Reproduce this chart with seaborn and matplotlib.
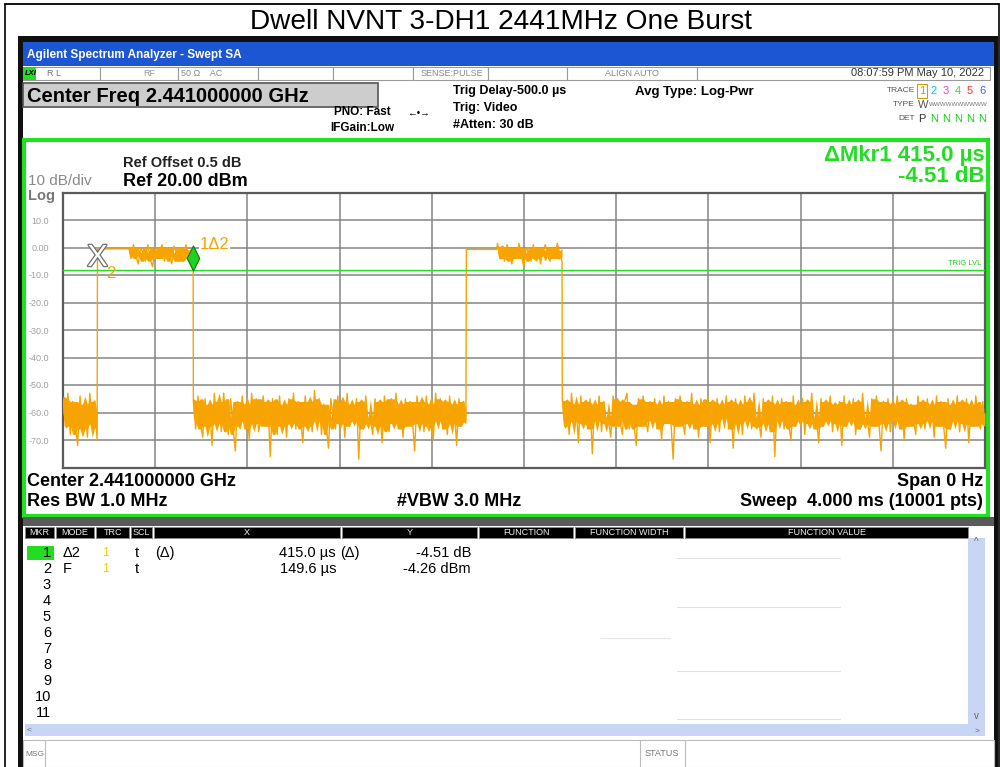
import numpy as np
import pandas as pd
import matplotlib
matplotlib.use('Agg')
import matplotlib.pyplot as plt
import matplotlib.patches as mpatches
import matplotlib.patheffects as pe
from matplotlib.path import Path
import seaborn as sns

sns.set_theme(style='white')
plt.rcParams['font.family'] = ['Liberation Sans', 'DejaVu Sans']

# ---- trace (time in us, level in dBm) ----
noise_start = [-55, -65, -53, -68, -56, -63, -72, -54, -66, -57, -69, -53, -64, -56, -70]
burst1_flat = [-0.5, -0.5]
burst1 = [0, -4, 1, -3, -6, 0, -2, -5, 1, -4, -7, 0, -4, -1,
          1, -5, 0, -3, -6, 0.5, -2, -5, 0, -5, 1, -4, -1, -4]
noise_mid = [
    -56, -66, -54, -63, -69, -55, -65, -57, -72, -53, -64, -56, -67, -53, -62, -68, -55, -65, -74, -56,
    -63, -54, -66, -57, -70, -53, -64, -55, -67, -62, -54, -65, -56, -76, -55, -63, -68, -54, -65, -57,
    -69, -55, -64, -53, -66, -56, -62, -71, -54, -65, -56, -67, -52, -63, -55, -68, -57, -64, -73, -55,
    -62, -66, -54, -64, -56, -69, -53, -65, -57, -63, -55, -77, -56, -66, -54, -64, -62, -68, -55, -65,
    -56, -71, -54, -63, -67, -55, -64, -53, -66, -57, -69, -55, -65, -56, -62, -74, -54, -64, -56, -67,
    -54, -65, -57, -70, -53, -63, -55, -66, -56, -68, -54, -64, -57, -72, -55, -65, -56, -63]
burst2_flat = [-0.7, -0.7]
burst2 = [1.5, -4, 0, -5, 1, -2, -6, 0, -4, 1.5, -3, -7, 0, -2,
          -5, 1, -4, 0, -6, -1, 1, -3, -5, 0, -4, 1.5, -2, -5]
noise_end = [
    -55, -65, -56, -68, -53, -63, -57, -71, -54, -64, -56, -66, -55, -75, -57, -63, -54, -67, -56, -64,
    -62, -69, -54, -65, -55, -63, -68, -56, -53, -66, -57, -64, -72, -55, -65, -54, -62, -67, -56, -63,
    -55, -66, -57, -70, -54, -64, -56, -63, -77, -55, -65, -54, -62, -68, -56, -64, -53, -66, -57, -69,
    -55, -63, -65, -54, -71, -56, -64, -55, -67, -57, -62, -54, -66, -56, -73, -55, -64, -57, -68, -54,
    -63, -56, -66, -53, -65, -62, -69, -55, -64, -56, -67, -54, -76, -57, -63, -55, -66, -56, -64, -70,
    -54, -65, -57, -63, -55, -68, -56, -64, -53, -66, -62, -71, -55, -65, -56, -63, -54, -67, -57, -64,
    -56, -72, -54, -65, -57, -63, -55, -68, -56, -66, -53, -64, -62, -69, -55, -65, -54, -63, -74, -56,
    -64, -55, -67, -57, -63, -54, -66, -56, -70, -55, -65, -57, -62, -68, -54, -64, -56, -66, -55, -63,
    -57, -69, -54, -65, -56, -64, -73, -55, -66, -57, -63, -54, -67, -56, -64, -55, -71, -57, -65, -54,
    -62, -66, -56, -64]

# time span of each piece of the sweep (us)
spans = [(0, 148), (149.6, 282), (285, 564.6), (565.5, 1748),
         (1750, 1882), (1885, 2165), (2166, 4000)]
pieces = [noise_start, burst1_flat, burst1, noise_mid, burst2_flat, burst2, noise_end]

y_ticks = [20, 10, 0, -10, -20, -30, -40, -50, -60, -70, -80]
y_labels = ['', '10.0', '0.00', '-10.0', '-20.0', '-30.0', '-40.0', '-50.0', '-60.0', '-70.0', '']

trig_level = -8.3
mkr2_t, mkr1_t = 149.6, 564.6
mkr_level = -3.8

table_rows = ['1', '2', '3', '4', '5', '6', '7', '8', '9', '10', '11']
mkr_mode = ['Δ2', 'F']
mkr_x = ['415.0 µs', '149.6 µs']
mkr_y = ['-4.51 dB', '-4.26 dBm']

# ---- build the trace table ----
frames = []
for k, ((t0, t1), vals) in enumerate(zip(spans, pieces)):
    frames.append(pd.DataFrame({'t': np.linspace(t0, t1, len(vals)), 'dBm': vals, 'piece': k}))
trace = pd.concat(frames, ignore_index=True)

fig = plt.figure(figsize=(10, 7.67), dpi=100)
bg = fig.add_axes([0, 0, 1, 1])
bg.set_xlim(0, 1000)
bg.set_ylim(767, 0)
bg.axis('off')


def box(x0, y0, x1, y1, fc='white', ec='none', lw=1.0, z=1):
    bg.add_patch(mpatches.Rectangle((x0, y0), x1 - x0, y1 - y0, fc=fc, ec=ec, lw=lw, zorder=z))


def txt(x, y, s, size=9, color='black', weight='normal', ha='left', **kw):
    kw.setdefault('zorder', 5)
    bg.text(x, y, s, fontsize=size, color=color, fontweight=weight, ha=ha, va='center', **kw)


# outer document frame + title
bg.plot([5, 5], [3.5, 767], color='black', lw=1.2)
bg.plot([5, 998.5], [3.5, 3.5], color='black', lw=1.3)
bg.plot([998.5, 998.5], [3.5, 767], color='black', lw=1.2)
txt(501, 22, 'Dwell NVNT 3-DH1 2441MHz One Burst', size=20.2, ha='center')

# screenshot frame
box(18, 36, 998, 767, fc='#101010', z=1)
box(23, 42, 994, 66, fc='#1d56d3', z=2)
txt(27, 55, 'Agilent Spectrum Analyzer - Swept SA', size=8.5, color='white', weight='bold')
box(23, 66, 994, 767, fc='white', z=2)

# status row
cells = [23, 100, 178, 258, 333, 413, 488, 567, 697, 990]
for a, b in zip(cells[:-1], cells[1:]):
    box(a, 67, b, 80, fc='white', ec='#9a9a9a', lw=0.8, z=3)
box(23, 67, 36, 80, fc='#22dd22', z=4)
txt(24.5, 73.5, 'LXI', size=5.5, weight='bold', style='italic')
txt(47, 73.5, 'R L', size=6.5, color='#777777')
txt(143, 73.5, 'RF', size=6.5, color='#999999')
txt(181, 73.5, '50 Ω    AC', size=6.5, color='#888888')
txt(452, 73.5, 'SENSE:PULSE', size=6.5, color='#888888', ha='center')
txt(632, 73.5, 'ALIGN AUTO', size=6.5, color='#888888', ha='center')
txt(984, 73.5, '08:07:59 PM May 10, 2022', size=8, color='#333333', ha='right')

# top setting area
box(23, 83, 378, 107, fc='#cdcdcd', ec='#555555', lw=1.2, z=3)
txt(27, 96, 'Center Freq 2.441000000 GHz', size=14.5, weight='bold')
txt(362, 112, 'PNO: Fast', size=8.5, weight='bold', ha='center')
txt(362, 128, 'IFGain:Low', size=8.5, weight='bold', ha='center')
txt(418, 112, '←•→', size=7, ha='center')
txt(453, 91, 'Trig Delay-500.0 µs', size=9, weight='bold')
txt(453, 108, 'Trig: Video', size=9, weight='bold')
txt(453, 125, '#Atten: 30 dB', size=9, weight='bold')
txt(635, 92, 'Avg Type: Log-Pwr', size=9.5, weight='bold')
txt(915, 91, 'TRACE', size=6, color='#555555', ha='right')
txt(915, 105, 'TYPE', size=6, color='#555555', ha='right')
txt(915, 119, 'DET', size=6, color='#555555', ha='right')
box(917, 84, 927, 98, fc='white', ec='#c8a000', lw=0.8, z=4)
for i, (d, c) in enumerate(zip('123456', ['#c8a000', '#00c8e8', '#e040e0', '#40d040', '#ff3030', '#4060ff'])):
    txt(922 + 12 * i, 91, d, size=8, color=c, ha='center')
txt(918, 105, 'W', size=8, color='#555555')
txt(929, 105, 'WWWWWWWWWW', size=4.5, color='#777777')
txt(922, 119, 'P', size=8, color='#333333', ha='center')
for i in range(1, 6):
    txt(922 + 12 * i, 119, 'N', size=8, color='#22cc22', ha='center')

# green display panel
box(24, 140, 988, 516, fc='white', ec='#22e022', lw=3, z=3)
txt(123, 163, 'Ref Offset 0.5 dB', size=10.5, weight='bold', color='#222222')
txt(123, 181, 'Ref 20.00 dBm', size=13, weight='bold')
txt(28, 181, '10 dB/div', size=11, color='#8a8a8a')
txt(28, 196, 'Log', size=10.5, color='#777777', weight='bold')
txt(985, 155, 'ΔMkr1 415.0 µs', size=16, weight='bold', color='#22dd22', ha='right')
txt(985, 176, '-4.51 dB', size=16, weight='bold', color='#22dd22', ha='right')
txt(27, 482, 'Center 2.441000000 GHz', size=13, weight='bold')
txt(983, 482, 'Span 0 Hz', size=13, weight='bold', ha='right')
txt(27, 502, 'Res BW 1.0 MHz', size=13, weight='bold')
txt(459, 502, '#VBW 3.0 MHz', size=13, weight='bold', ha='center')
txt(983, 502, 'Sweep  4.000 ms (10001 pts)', size=13, weight='bold', ha='right')

# marker table
box(23, 517, 994, 526, fc='#5a5a5a', z=3)
heads = [(25, 54, 'MKR'), (56, 94, 'MODE'), (96, 129, 'TRC'), (131, 152, 'SCL'),
         (154, 340, 'X'), (342, 477, 'Y'), (479, 573, 'FUNCTION'),
         (575, 683, 'FUNCTION WIDTH'), (685, 968, 'FUNCTION VALUE')]
for a, b, s in heads:
    box(a, 527, b, 538, fc='black', ec='#888888', lw=0.7, z=4)
    txt((a + b) / 2, 532.5, s, size=6.5, color='#f0f0f0', ha='center')
box(27, 546, 54, 560, fc='#22dd22', z=4)
for i, r in enumerate(table_rows):
    txt(51, 553 + 16 * i, r, size=10.5, ha='right')
for i in range(2):
    yy = 553 + 16 * i
    txt(63, yy, mkr_mode[i], size=10.5)
    txt(106, yy, '1', size=9, color='#f0d000', ha='center')
    txt(135, yy, 't', size=10.5)
    txt(336, yy, mkr_x[i], size=10.5, ha='right')
    txt(471, yy, mkr_y[i], size=10.5, ha='right')
txt(155, 553, '(Δ)', size=10.5)
txt(340, 553, '(Δ)', size=10.5)
for yy in [558, 607, 671, 719]:
    bg.plot([677, 840], [yy, yy], color='#e0e0e0', lw=0.8, zorder=4)
bg.plot([600, 670], [638, 638], color='#e6e6e6', lw=0.8, zorder=4)

# scroll bars and message bar
box(25, 724, 968, 736, fc='#c9d5f5', z=4)
box(968, 538, 985, 736, fc='#c9d5f5', z=4)
txt(27, 730, '<', size=6, color='#666666')
txt(976, 542, '^', size=7, color='#666666', ha='center')
txt(976, 716, 'v', size=7, color='#666666', ha='center')
txt(977, 731, '>', size=6, color='#666666', ha='center')
box(23, 740, 994, 767, fc='white', ec='#bbbbbb', lw=0.8, z=4)
bg.plot([45, 45], [740, 767], color='#bbbbbb', lw=0.8, zorder=5)
bg.plot([640, 640], [740, 767], color='#bbbbbb', lw=0.8, zorder=5)
bg.plot([685, 685], [740, 767], color='#bbbbbb', lw=0.8, zorder=5)
txt(25, 754, 'MSG', size=6, color='#777777', zorder=6)
txt(662, 754, 'STATUS', size=6.5, color='#777777', ha='center', zorder=6)

# ---- the trace itself ----
trace_color = '#f7a300'
ax = fig.add_axes([63 / 1000, (767 - 467.5) / 767, 922 / 1000, 275 / 767])
ax.set_facecolor('white')
# dense core of each noisy stretch, the way a 10001-point sweep paints it
for k, part in trace.groupby('piece'):
    if len(part) < 5:
        continue
    roll = part['dBm'].rolling(5, center=True, min_periods=1)
    ax.fill_between(part['t'], roll.quantile(0.25), roll.quantile(0.75),
                    color=trace_color, lw=0, zorder=3)
sns.lineplot(data=trace, x='t', y='dBm', ax=ax, color=trace_color, lw=1.0,
             estimator=None, sort=False, zorder=3)
ax.set_xlim(0, 4000)
ax.set_ylim(-80, 20)
ax.set_xticks(np.linspace(0, 4000, 11))
ax.set_xticklabels([])
ax.set_yticks(y_ticks)
ax.set_yticklabels(y_labels)
ax.set_xlabel('')
ax.set_ylabel('')
ax.tick_params(axis='y', length=0, pad=10, labelsize=6.5, labelcolor='#a0a0a0')
ax.tick_params(axis='x', length=0)
ax.grid(True, color='#858585', lw=1.1)
for sp in ax.spines.values():
    sp.set_color('#5a5a5a')
    sp.set_linewidth(1.6)

ax.axhline(trig_level, color='#22dd22', lw=1.0, zorder=4)
ax.text(3985, trig_level + 2.6, 'TRIG LVL', fontsize=5.5, color='#22cc22', ha='right', va='center')

# markers
ax.text(mkr2_t, mkr_level, 'X', fontsize=22, color='white', ha='center', va='center', zorder=6,
        path_effects=[pe.withStroke(linewidth=1.8, foreground='#707070')])
ax.text(mkr2_t + 38, mkr_level - 5.5, '2', fontsize=12, color=trace_color, ha='left', va='center', zorder=6)
diamond = Path([(0, 1), (0.5, 0), (0, -1), (-0.5, 0), (0, 1)],
               [Path.MOVETO, Path.LINETO, Path.LINETO, Path.LINETO, Path.CLOSEPOLY])
ax.plot([mkr1_t], [mkr_level], marker=diamond, ms=18, mfc='#1fd21f', mec='#0c7a0c', mew=0.8,
        ls='none', zorder=6)
ax.text(mkr1_t + 30, 1.0, '1Δ2', fontsize=12, color=trace_color, ha='left', va='center', zorder=6,
        bbox=dict(fc='white', ec='none', pad=0.5))

fig.savefig('out.png', dpi=100)
